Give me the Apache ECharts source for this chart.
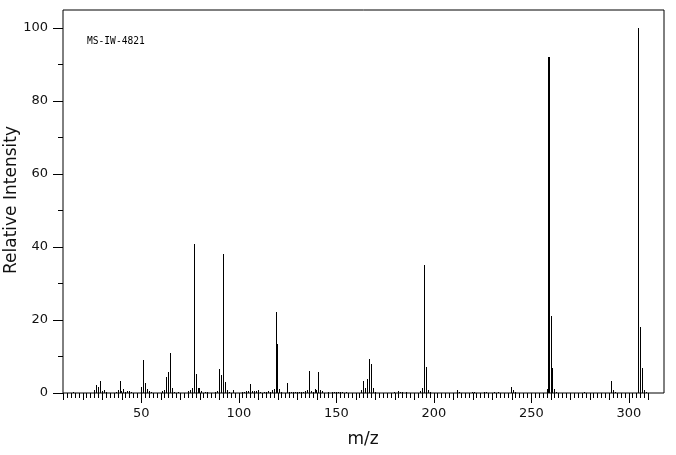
<!DOCTYPE html>
<html>
<head>
<meta charset="utf-8">
<script src="https://cdn.jsdelivr.net/npm/echarts@6/dist/echarts.min.js"></script>
<style>html,body{margin:0;padding:0;background:#fff;}#c{width:676px;height:455px;}</style>
</head>
<body>
<div id="c"></div>
<script>
// m/z values and relative intensities
const mz = [15,26,27,28,29,30,31,32,37,38,39,40,41,42,43,44,45,50,51,52,53,54,55,61,62,63,64,65,66,67,69,
  74,75,76,77,78,79,80,81,83,84,88,89,90,91,92,93,94,95,97,102,103,104,105,106,107,108,109,110,111,113,114,115,116,117,118,119,120,121,122,
  125,126,127,128,129,130,131,132,133,134,135,136,137,138,139,140,141,142,143,146,148,149,150,151,152,153,155,
  163,164,165,166,167,168,169,170,180,182,183,184,186,193,194,195,196,197,198,212,213,220,221,226,227,231,233,240,241,242,
  258,259,260,261,262,263,277,291,292,293,305,306,307,308,309];
const intensity = [0.4,0.8,2.2,1.6,3.3,0.5,0.8,0.4,0.4,0.8,3.3,0.5,1.0,0.3,0.6,0.6,0.4,1.6,9.0,2.7,1.1,0.5,0.4,0.5,0.8,4.4,5.8,11.0,1.4,0.4,0.4,
  0.6,0.7,1.4,40.8,5.2,1.4,1.4,0.6,0.3,0.3,0.4,0.6,6.6,4.9,38.1,3.0,0.8,0.4,0.8,0.4,0.4,0.5,0.6,2.5,0.6,0.6,0.6,0.8,0.3,0.4,0.4,0.5,0.4,0.8,1.1,22.2,13.4,1.1,0.4,
  2.7,0.4,0.4,0.4,0.4,0.4,0.4,0.3,0.4,0.6,0.8,6.0,0.6,0.3,1.0,0.8,5.8,0.8,0.5,0.4,0.4,0.4,0.4,0.4,0.4,0.4,0.3,
  0.7,3.3,1.4,3.8,9.3,7.9,1.4,0.3,0.4,0.6,0.3,0.3,0.3,0.5,1.4,35.1,7.2,0.8,0.4,0.8,0.3,0.4,0.4,0.4,0.3,0.3,0.3,1.6,0.8,0.3,
  1.0,92.0,21.1,6.8,1.1,0.4,0.4,3.3,0.8,0.4,100,18.0,6.8,0.8,0.3];
const thickPeaks = [259];
const xTickLabels = [50,100,150,200,250,300];
const yTickLabels = [0,20,40,60,80,100];
const specId = 'MS-IW-4821';
const xTitle = 'm/z';
const yTitle = 'Relative Intensity';

const X_MIN = 9.85, X_MAX = 318.05, Y_MAX = 104.93;
const xTicks2 = [], xTicks10 = [], yTicksMinor = [];
for (let v = 10; v <= 310; v += 2) xTicks2.push(v);
for (let v = 10; v <= 310; v += 10) xTicks10.push(v);
for (let v = 10; v <= 90; v += 20) yTicksMinor.push(v);

const FONT = 'DejaVu Sans';
const baseX = {type:'value', min:X_MIN, max:X_MAX, position:'bottom', gridIndex:0,
  axisLine:{show:false}, splitLine:{show:false}};
const baseY = {type:'value', min:0, max:Y_MAX, position:'left', gridIndex:0,
  axisLine:{show:false}, splitLine:{show:false}};

const chart = echarts.init(document.getElementById('c'), null, {renderer:'canvas'});
chart.setOption({
  animation:false,
  backgroundColor:'#fff',
  grid:{left:63, right:12, top:10, bottom:62, show:true, borderColor:'#000', borderWidth:1, backgroundColor:'transparent'},
  xAxis:[
    Object.assign({}, baseX, {axisTick:{show:true, customValues:xTicks2, length:5, lineStyle:{color:'#000'}}, axisLabel:{show:false}}),
    Object.assign({}, baseX, {axisTick:{show:true, customValues:xTicks10, length:7, lineStyle:{color:'#000'}}, axisLabel:{show:false}}),
    Object.assign({}, baseX, {axisTick:{show:true, customValues:xTickLabels, length:10, lineStyle:{color:'#000'}},
      axisLabel:{show:true, customValues:xTickLabels, color:'#111', fontFamily:FONT, fontSize:13, margin:14}})
  ],
  yAxis:[
    Object.assign({}, baseY, {axisTick:{show:true, customValues:yTickLabels, length:10, lineStyle:{color:'#000'}},
      axisLabel:{show:true, customValues:yTickLabels, color:'#111', fontFamily:FONT, fontSize:13, margin:15}}),
    Object.assign({}, baseY, {axisTick:{show:true, customValues:yTicksMinor, length:5, lineStyle:{color:'#000'}}, axisLabel:{show:false}})
  ],
  graphic:[
    {type:'text', left:87, top:36, style:{text:specId, font:'9.6px "DejaVu Sans Mono"', fill:'#000'}},
    {type:'text', x:363, y:440, style:{text:xTitle, font:'17px "DejaVu Sans"', fill:'#111', textAlign:'center', textVerticalAlign:'middle'}},
    {type:'text', x:12, y:200, rotation:Math.PI/2, style:{text:yTitle, font:'17px "DejaVu Sans"', fill:'#111', textAlign:'center', textVerticalAlign:'middle'}}
  ],
  series:[{
    type:'custom', xAxisIndex:0, yAxisIndex:0,
    data: mz.map((m,i)=>[m, intensity[i]]),
    renderItem: function(params, api){
      const m = api.value(0);
      const base = api.coord([m, 0]);
      const top = api.coord([m, api.value(1)]);
      const thick = thickPeaks.indexOf(m) >= 0;
      const w = thick ? 2 : 1;
      const px = Math.round(base[0] - 0.3);
      const x = px - (thick ? 1 : 0);
      const y = Math.round(top[1]);
      return {type:'rect', shape:{x:x, y:y, width:w, height:Math.round(base[1]) - y}, style:{fill:'#000'}};
    }
  }]
});
</script>
</body>
</html>
